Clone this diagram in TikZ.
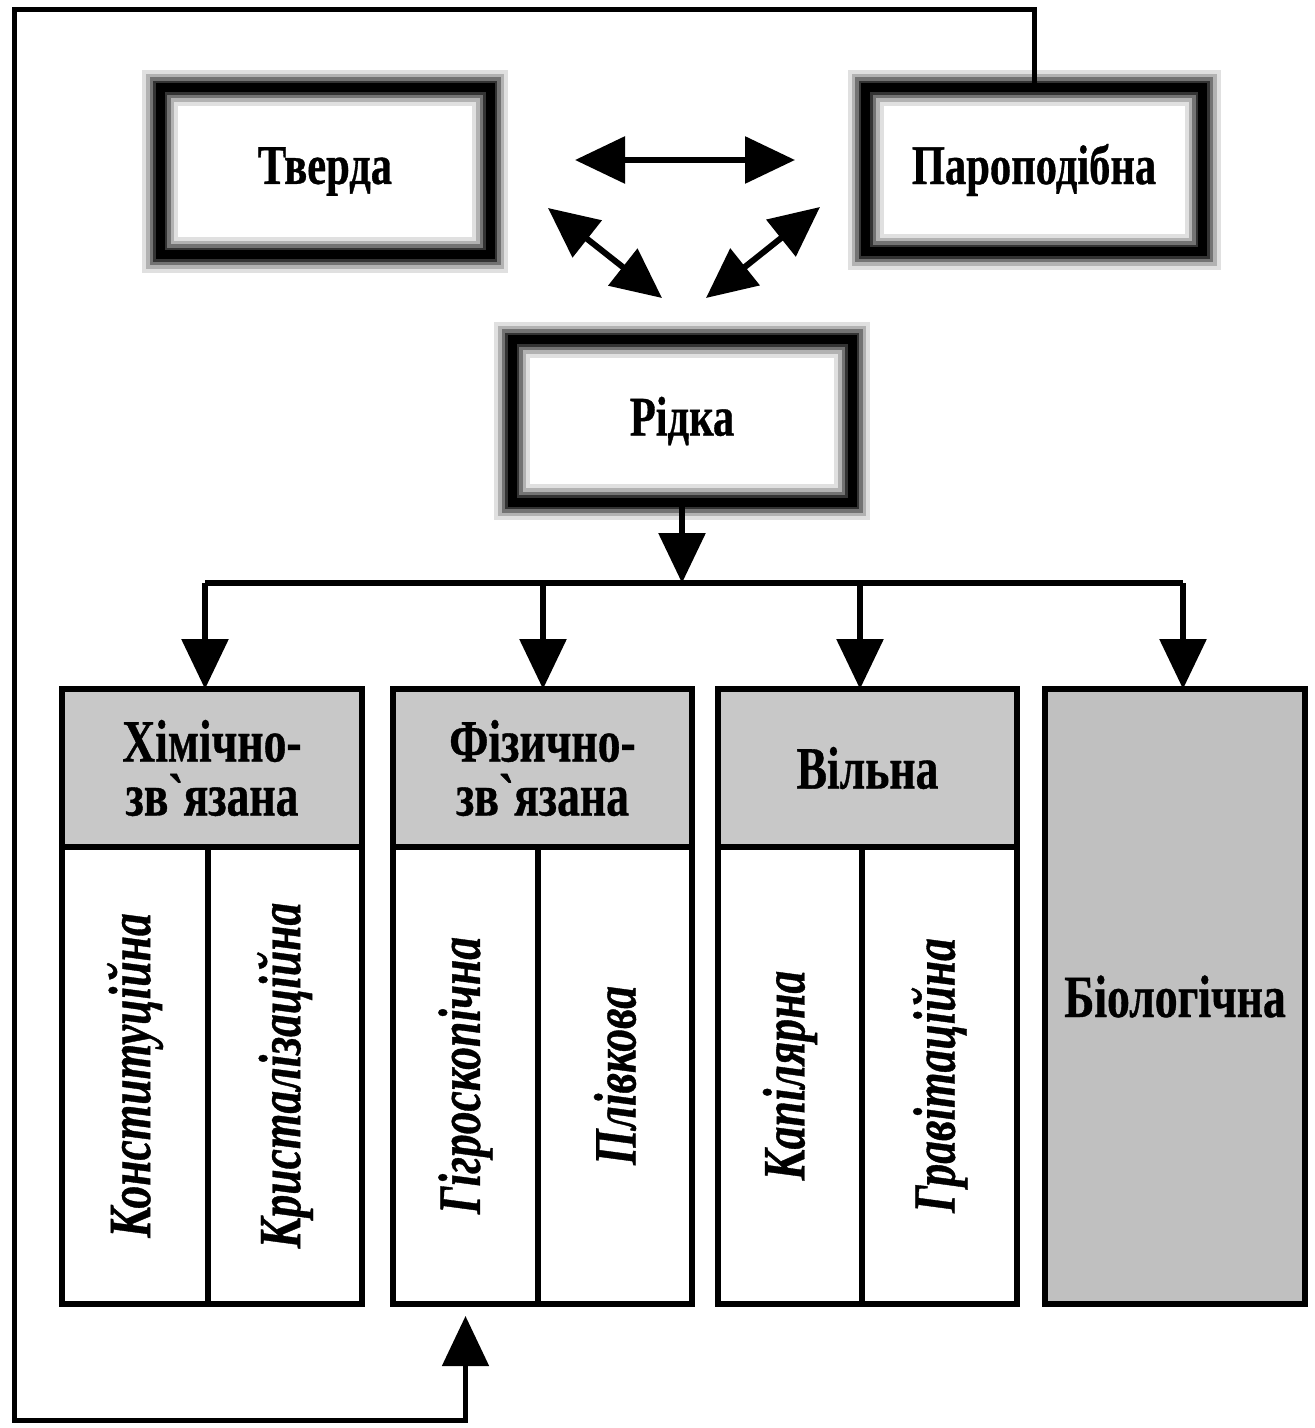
\documentclass[tikz,border=0pt]{standalone}
\usepackage{fontspec}
\setmainfont{Liberation Serif}
\newfontfamily\condfont[FakeStretch=0.76,FakeBold=0.6]{Liberation Serif}
\usetikzlibrary{arrows.meta}
\definecolor{hdrgray}{RGB}{200,200,200}
\definecolor{biogray}{RGB}{192,192,192}
\begin{document}
\begin{tikzpicture}[x=0.5pt,y=-0.5pt,
  topbox/.style={draw=black, line width=4.5pt, inner sep=0pt, outer sep=0pt,
    preaction={draw=black!12, line width=18pt},
    preaction={draw=black!30, line width=14pt},
    preaction={draw=black!55, line width=10.5pt},
    preaction={draw=black!80, line width=7pt},
    font=\condfont\bfseries\fontsize{28}{32}\selectfont},
  hdrbox/.style={draw=black, line width=3pt, fill=hdrgray, inner sep=0pt, outer sep=0pt,
    minimum height=79pt, align=center,
    font=\condfont\bfseries\fontsize{30}{27}\selectfont},
  subbox/.style={draw=black, line width=3pt, inner sep=0pt, outer sep=0pt,
    minimum height=228.5pt,
    font=\condfont\bfseries\itshape\fontsize{30}{32}\selectfont},
  biobox/.style={draw=black, line width=3pt, fill=biogray, inner sep=0pt, outer sep=0pt,
    font=\condfont\bfseries\fontsize{30}{32}\selectfont},
  tip/.tip={Triangle[length=25pt,width=23pt]},
  arr/.style={line width=3pt, -tip},
  darr/.style={line width=3pt, tip-tip},
  busline/.style={line width=3pt},
  loopline/.style={line width=2.5pt}
]
\useasboundingbox (0,0) rectangle (1314,1428);
\fill[white] (0,0) rectangle (1314,1428);

% top boxes
\node[topbox, minimum width=165pt, minimum height=83.5pt] (tverda) at (325,171.5) {Тверда};
\node[topbox, minimum width=168.5pt, minimum height=82pt] (paro) at (1034,170) {Пароподібна};
\node[topbox, minimum width=170pt, minimum height=81pt] (ridka) at (682,421) {Рідка};

% arrows between states
\coordinate (hA) at (575,160);
\coordinate (hB) at (795,160);
\coordinate (dA1) at (548,208);
\coordinate (dA2) at (662,298);
\coordinate (dB1) at (820,207);
\coordinate (dB2) at (706,298);
\draw[darr] (hA) -- (hB);
\draw[darr] (dA1) -- (dA2);
\draw[darr] (dB1) -- (dB2);

% headers
\node[hdrbox, minimum width=150pt] (h1) at (212,768) {Хімічно-\\зв`язана};
\node[hdrbox, minimum width=149.5pt] (h2) at (542.5,768) {Фізично-\\зв`язана};
\node[hdrbox, minimum width=149.5pt] (h3) at (867.5,768) {\raisebox{-5pt}{Вільна}};
\node[biobox, minimum width=130pt, minimum height=307.5pt] (bio) at (1175,996.5) {Біологічна};

% sub columns
\node[subbox, minimum width=73pt] (c1a) at (135,1075.5) {\rotatebox{90}{Конституційна}};
\node[subbox, minimum width=77pt] (c1b) at (285,1075.5) {\rotatebox{90}{Кристалізаційна}};
\node[subbox, minimum width=72.5pt] (c2a) at (465.5,1075.5) {\rotatebox{90}{Гігроскопічна}};
\node[subbox, minimum width=77pt] (c2b) at (615,1075.5) {\rotatebox{90}{Плівкова}};
\node[subbox, minimum width=72pt] (c3a) at (790,1075.5) {\rotatebox{90}{Капілярна}};
\node[subbox, minimum width=77.5pt] (c3b) at (939.5,1075.5) {\rotatebox{90}{Гравітаційна}};

% bus
\coordinate (bus) at (682,583);
\coordinate (b1) at (205,583);
\coordinate (b2) at (543,583);
\coordinate (b3) at (860,583);
\coordinate (b4) at (1183,583);
\draw[arr] (ridka.south) -- (bus);
\draw[busline] (b1) -- (b4);
\draw[arr] (b1) -- (b1 |- h1.north);
\draw[arr] (b2) -- (b2 |- h2.north);
\draw[arr] (b3) -- (b3 |- h3.north);
\draw[arr] (b4) -- (b4 |- bio.north);

% feedback loop
\coordinate (lt) at (14,10);
\coordinate (lb) at (14,1420);
\draw[loopline, -tip, shorten >=6pt] (paro.north) |- (lt) -- (lb) -| (c2a.south);
\end{tikzpicture}
\end{document}
